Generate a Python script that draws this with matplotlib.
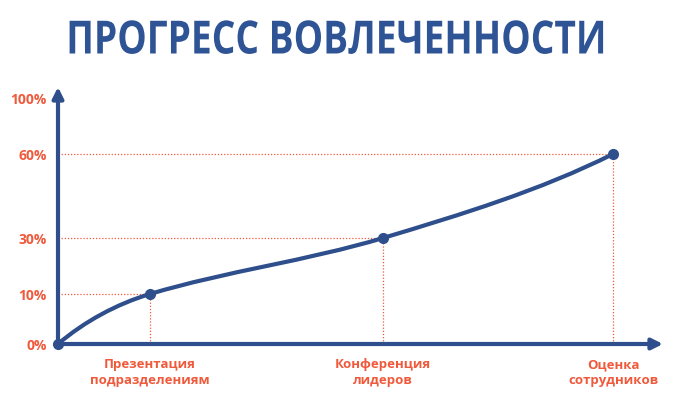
import numpy as np
import matplotlib.pyplot as plt
from matplotlib.path import Path
from matplotlib.patches import PathPatch
from matplotlib.patheffects import AbstractPathEffect
from matplotlib.transforms import Affine2D

# data
stages = ['', 'Презентация\nподразделениям', 'Конференция\nлидеров', 'Оценка\nсотрудников']
stage_idx = [0, 1, 2, 3]
progress = [0, 10, 30, 60]
y_levels = [0, 10, 30, 60, 100]
y_labels = ['0%', '10%', '30%', '60%', '100%']
title = 'ПРОГРЕСС ВОВЛЕЧЕННОСТИ'

# style
BLUE = '#2e4f8c'
TITLE_BLUE = '#2f5496'
RED = '#f05a3c'
# non-uniform spacing of the original artwork (pixel units)
X_PIX = [0, 92, 325, 555]
Y_PIX = [0, 50, 106, 190, 245]
SLOPES = [0.85, 0.3, 0.3, 0.5]

plt.rcParams['font.family'] = ['Open Sans', 'DejaVu Sans']


class Squeeze(AbstractPathEffect):
    """narrow the glyphs horizontally around cx (display px), then shift by dx"""
    def __init__(self, sx, cx, dx=0):
        super().__init__()
        self.sx, self.cx, self.dx = sx, cx, dx

    def draw_path(self, renderer, gc, tpath, affine, rgbFace=None):
        squeeze = (Affine2D().translate(-self.cx, 0).scale(self.sx, 1)
                   .translate(self.cx + self.dx, 0))
        renderer.draw_path(gc, tpath, affine + squeeze, rgbFace)


fx = lambda v: np.interp(v, stage_idx, X_PIX)
fx_inv = lambda u: np.interp(u, X_PIX, stage_idx)
fy = lambda v: np.interp(v, y_levels, Y_PIX)
fy_inv = lambda u: np.interp(u, Y_PIX, y_levels)

fig = plt.figure(figsize=(6.85, 4.0), dpi=100)
ax = fig.add_axes([58 / 685, 56 / 400, 555 / 685, 245 / 400])
ax.set_xscale('function', functions=(fx, fx_inv))
ax.set_yscale('function', functions=(fy, fy_inv))
ax.set_xlim(0, 3)
ax.set_ylim(0, 100)
for s in ax.spines.values():
    s.set_visible(False)

# guide lines
for xi, yi in zip(stage_idx[1:], progress[1:]):
    ax.plot([0, xi], [yi, yi], ls=(0, (1, 1.5)), color=RED, lw=0.9, zorder=1, clip_on=False)
    ax.plot([xi, xi], [0, yi], ls=(0, (1, 1.5)), color=RED, lw=0.9, zorder=1, clip_on=False)

# axes arrows
arrow = dict(arrowstyle='-|>', color=BLUE, lw=3, mutation_scale=16, shrinkA=0, shrinkB=0)
ax.annotate('', xy=(605 / 555, 0), xytext=(0, 0), xycoords='axes fraction',
            arrowprops=arrow, annotation_clip=False, zorder=4)
ax.annotate('', xy=(0, 257 / 245), xytext=(0, 0), xycoords='axes fraction',
            arrowprops=arrow, annotation_clip=False, zorder=4)

# smooth curve through the points (built in scale space)
px = fx(np.array(stage_idx, float))
py = fy(np.array(progress, float))
verts = [(px[0], py[0])]
codes = [Path.MOVETO]
for i in range(len(px) - 1):
    d = np.hypot(px[i + 1] - px[i], py[i + 1] - py[i]) / 3
    t0 = np.array([1, SLOPES[i]]) / np.hypot(1, SLOPES[i])
    t1 = np.array([1, SLOPES[i + 1]]) / np.hypot(1, SLOPES[i + 1])
    c1 = np.array([px[i], py[i]]) + d * t0
    c2 = np.array([px[i + 1], py[i + 1]]) - d * t1
    verts += [tuple(c1), tuple(c2), (px[i + 1], py[i + 1])]
    codes += [Path.CURVE4] * 3
verts = [(float(fx_inv(u)), float(fy_inv(v))) for u, v in verts]
ax.add_patch(PathPatch(Path(verts, codes), fc='none', ec=BLUE, lw=3, zorder=5,
                       capstyle='round', clip_on=False))
ax.plot(stage_idx, progress, 'o', color=BLUE, ms=7, zorder=6, clip_on=False)

# ticks
ax.set_yticks(y_levels, y_labels)
ax.set_xticks(stage_idx[1:], stages[1:])
ax.tick_params(axis='y', length=0, pad=8, labelsize=10, labelcolor=RED)
ax.tick_params(axis='x', length=0, pad=10, labelsize=9.5, labelcolor=RED)
for lab in ax.get_yticklabels() + ax.get_xticklabels():
    lab.set_fontweight('bold')
for lab in ax.get_xticklabels():
    lab.set_linespacing(1.35)

fig.text(0.5, 1 - 41 / 400, title, ha='center', va='center', fontsize=33,
         fontweight='bold', color=TITLE_BLUE,
         path_effects=[Squeeze(0.81, 0.5 * 685, dx=-6)])

fig.savefig('out.png', dpi=100)
